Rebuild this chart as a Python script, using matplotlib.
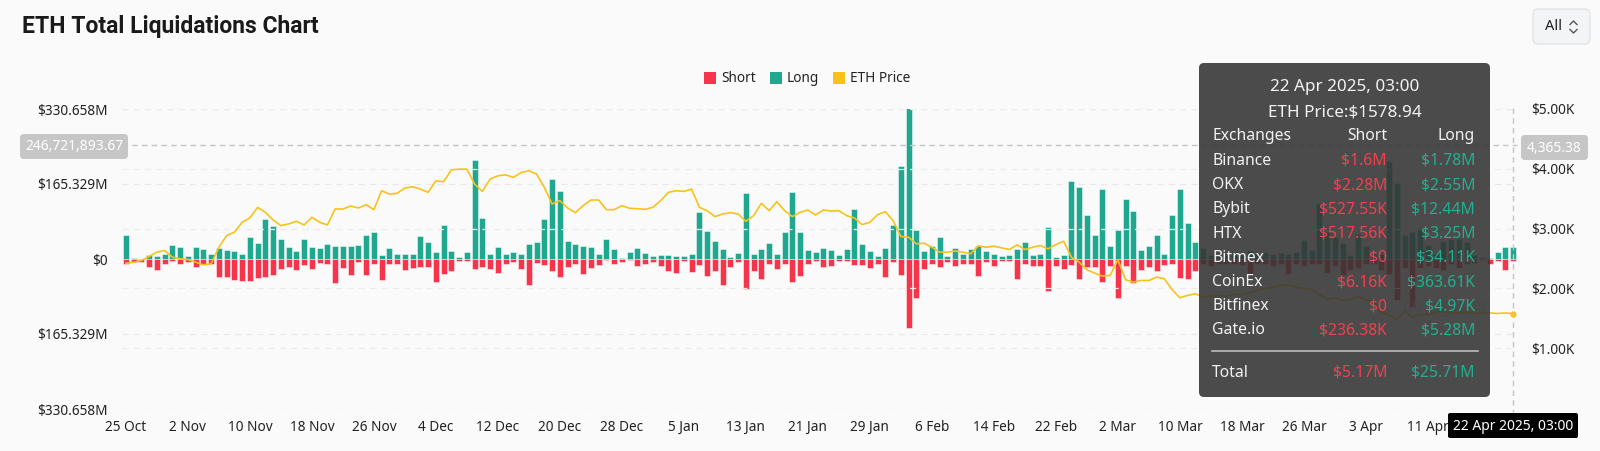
import numpy as np
import pandas as pd
import matplotlib
matplotlib.use("Agg")
import matplotlib.pyplot as plt
from matplotlib.patches import FancyBboxPatch, Rectangle
from matplotlib.lines import Line2D
from matplotlib.transforms import Affine2D

plt.rcParams['font.family'] = ['Noto Sans', 'DejaVu Sans']

W, H = 1600, 451

# daily data, 25 Oct 2024 .. 22 Apr 2025 (values in $M, price in $)
dates = pd.date_range("2024-10-25", periods=180, freq="D")

long_liq = [
    54, 2, 1, 8, 7, 10, 30, 26, 7, 26,
    22, 10, 24, 19, 17, 12, 48, 36, 89, 73,
    43, 26, 17, 43, 26, 25, 32, 29, 28, 28,
    30, 53, 60, 8, 24, 12, 10, 10, 51, 37,
    16, 76, 18, 5, 15, 218, 90, 12, 26, 10,
    16, 12, 32, 37, 88, 176, 149, 39, 34, 29,
    27, 10, 43, 21, 1.5, 15, 24, 14, 6, 8,
    8, 7, 6, 12, 104, 61, 40, 22, 4, 14,
    145, 10, 23, 35, 12, 60, 148, 59, 20, 16,
    24, 19, 9, 21, 110, 32, 18, 6, 24, 75,
    204, 335, 65, 18, 29, 48, 7, 24, 10, 23,
    29, 18, 12, 7, 9, 21, 38, 8, 10, 70,
    5, 9, 173, 158, 97, 54, 154, 29, 63, 133,
    105, 19, 29, 54, 11, 98, 154, 79, 38, 25,
    8, 10, 8, 15, 12, 20, 12, 16, 10, 14,
    10, 15, 41, 20, 123, 60, 48, 36, 9, 55,
    29, 10, 12, 215, 168, 53, 60, 69, 30, 10,
    40, 45, 45, 38, 9, 5, 2, 16, 26, 25.71,
]

short_liq = [
    12, 7, 7, 17, 25, 12, 4, 12, 7, 17,
    10, 11, 39, 39, 47, 49, 49, 42, 40, 35,
    23, 18, 24, 14, 21, 9, 11, 52, 20, 35,
    7, 36, 11, 47, 12, 12, 24, 19, 18, 17,
    51, 32, 27, 4, 5, 21, 18, 23, 31, 10,
    6, 21, 58, 8, 13, 27, 40, 18, 12, 33,
    19, 13, 3, 12, 7, 3, 15, 11, 6, 15,
    27, 30, 5, 28, 13, 37, 26, 57, 18, 7,
    66, 26, 43, 11, 22, 11, 51, 37, 11, 4,
    18, 15, 4, 4, 13, 13, 20, 11, 39, 7,
    35, 153, 85, 22, 12, 18, 7, 15, 12, 12,
    37, 7, 15, 4, 4, 44, 12, 15, 15, 71,
    16, 22, 14, 44, 18, 18, 50, 15, 85, 16,
    54, 24, 18, 27, 14, 10, 41, 44, 27, 12,
    15, 10, 12, 10, 14, 33, 10, 12, 15, 12,
    32, 10, 15, 10, 12, 30, 15, 35, 25, 20,
    12, 12, 25, 32, 90, 20, 105, 20, 15, 20,
    25, 12, 20, 12, 8, 3, 12, 5, 24, 5.17,
]

eth_price = [
    2422, 2439, 2467, 2533, 2606, 2633, 2522, 2494, 2483, 2439,
    2394, 2411, 2689, 2883, 2939, 3106, 3178, 3356, 3272, 3144,
    3050, 3078, 3122, 3061, 3189, 3106, 3061, 3328, 3328, 3378,
    3344, 3400, 3317, 3633, 3578, 3590, 3678, 3700, 3661, 3606,
    3800, 3783, 3983, 3994, 3994, 3744, 3622, 3828, 3883, 3900,
    3856, 3939, 3967, 3911, 3689, 3411, 3467, 3344, 3267, 3383,
    3478, 3478, 3317, 3317, 3383, 3339, 3333, 3322, 3356, 3467,
    3606, 3633, 3622, 3661, 3356, 3300, 3200, 3244, 3267, 3244,
    3122, 3217, 3422, 3300, 3450, 3300, 3200, 3272, 3311, 3228,
    3311, 3294, 3300, 3217, 3178, 3067, 3106, 3233, 3283, 3133,
    2867, 2856, 2744, 2756, 2689, 2606, 2606, 2625, 2606, 2578,
    2711, 2689, 2706, 2678, 2650, 2728, 2650, 2689, 2717, 2661,
    2733, 2789, 2522, 2439, 2311, 2256, 2206, 2217, 2478, 2144,
    2106, 2133, 2133, 2189, 2161, 1978, 1844, 1883, 1911, 1856,
    1870, 1880, 1870, 1900, 1890, 1930, 1970, 2000, 2020, 2050,
    2060, 2020, 2000, 1980, 1900, 1820, 1840, 1800, 1820, 1860,
    1800, 1790, 1590, 1560, 1480, 1620, 1520, 1560, 1560, 1600,
    1620, 1590, 1590, 1600, 1580, 1590, 1590, 1580, 1590, 1578.94,
]

left_ticks = [-330.658, -165.329, 0, 165.329, 330.658]
right_ticks = [1000, 2000, 3000, 4000, 5000]

# tooltip content
tip_rows = ["Binance", "OKX", "Bybit", "HTX", "Bitmex", "CoinEx", "Bitfinex", "Gate.io"]
tip_short = ["$1.6M", "$2.28M", "$527.55K", "$517.56K", "$0", "$6.16K", "$0", "$236.38K"]
tip_long = ["$1.78M", "$2.55M", "$12.44M", "$3.25M", "$34.11K", "$363.61K", "$4.97K", "$5.28M"]

GREEN = "#1fa88f"
RED = "#f6344b"
YELLOW = "#f7c31a"
BG = "#fafafa"
TXT = "#222222"

fig = plt.figure(figsize=(W / 100, H / 100), dpi=100, facecolor=BG)
# pixel coords (origin top-left) -> figure
PX = Affine2D().scale(1 / W, -1 / H).translate(0, 1) + fig.transFigure

ax = fig.add_axes([122 / W, 1 - 409 / H, (1517 - 122) / W, 300 / H])
ax.set_facecolor(BG)
x = np.arange(len(dates))
ax.set_xlim(-0.5, len(dates) - 0.5)
ax.set_ylim(-330.658, 330.658)

for v in left_ticks:
    ax.axhline(v, color="#e9e9e9", lw=0.9, ls=(0, (5, 4)), zorder=0)

ax.bar(x, long_liq, width=0.8, color=GREEN, edgecolor=(1, 1, 1, 0.55), linewidth=0.6, zorder=2)
ax.bar(x, -np.array(short_liq), width=0.8, color=RED, edgecolor=(1, 1, 1, 0.55), linewidth=0.6, zorder=2)

ax.set_yticks(left_ticks)
ax.set_yticklabels(["$0" if v == 0 else f"${abs(v):.3f}M" for v in left_ticks])
xt = x[:-8:8]  # 19 Apr sits under the crosshair date label
ax.set_xticks(xt)
ax.set_xticklabels([f"{dates[i].day} {dates[i].strftime('%b')}" for i in xt])
ax.tick_params(length=0, labelsize=9.8, colors=TXT, pad=8)
ax.tick_params(axis="y", pad=10)
for s in ax.spines.values():
    s.set_visible(False)

ax2 = ax.twinx()
ax2.set_ylim(-16.7, 4983.3)
for v in right_ticks:
    ax2.axhline(v, color="#ececec", lw=0.9, ls=(0, (5, 4)), zorder=0)
ax2.plot(x, eth_price, color=YELLOW, lw=1.2, zorder=3)
ax2.plot(x[-1], eth_price[-1], "o", color=YELLOW, ms=3.5, zorder=3)
ax2.set_yticks(right_ticks)
ax2.set_yticklabels([f"${v / 1000:.2f}K" for v in right_ticks])
ax2.tick_params(length=0, labelsize=9.8, colors=TXT, pad=10)
for s in ax2.spines.values():
    s.set_visible(False)

# title
fig.text(22, 27, "ETH Total Liquidations Chart", transform=PX, fontsize=16.5, fontweight="bold",
         family=["Roboto", "DejaVu Sans"], color="#1a1a1a", va="center", ha="left")

# "All" selector
fig.patches.append(FancyBboxPatch((1533, 9), 57, 35, boxstyle="round,pad=0,rounding_size=5",
                                  transform=PX, facecolor="#f2f4f5", edgecolor="#e1e4e6", lw=1))
fig.text(1545, 27, "All", transform=PX, fontsize=10.5, color=TXT, va="center", ha="left")
fig.lines.append(Line2D([1570, 1573.5, 1577], [24.5, 21, 24.5], transform=PX, color="#555", lw=1))
fig.lines.append(Line2D([1570, 1573.5, 1577], [29.5, 33, 29.5], transform=PX, color="#555", lw=1))

# legend
lx = 704
for lab, col in (("Short", RED), ("Long", GREEN), ("ETH Price", YELLOW)):
    fig.patches.append(Rectangle((lx, 72), 12, 12, transform=PX, facecolor=col, edgecolor="none"))
    fig.text(lx + 17, 78, lab, transform=PX, fontsize=9.8, color=TXT, va="center", ha="left")
    lx += {"Short": 66, "Long": 63}.get(lab, 0)

# crosshair
fig.lines.append(Line2D([122, 1517], [145, 145], transform=PX, color="#c4c4c4", lw=1,
                        ls=(0, (4, 3)), zorder=4))
fig.lines.append(Line2D([1513, 1513], [108, 412], transform=PX, color="#c4c4c4", lw=1,
                        ls=(0, (4, 3)), zorder=4))
fig.patches.append(FancyBboxPatch((20, 134), 108, 25, boxstyle="round,pad=0,rounding_size=4",
                                  transform=PX, facecolor="#c6c6c6", edgecolor="none", zorder=5))
fig.text(74, 147, "246,721,893.67", transform=PX, fontsize=10, color="white", ha="center",
         va="center", zorder=6)
fig.patches.append(FancyBboxPatch((1521, 135), 67, 25, boxstyle="round,pad=0,rounding_size=4",
                                  transform=PX, facecolor="#c6c6c6", edgecolor="none", zorder=5))
fig.text(1554.5, 148, "4,365.38", transform=PX, fontsize=10, color="white", ha="center",
         va="center", zorder=6)
fig.patches.append(FancyBboxPatch((1448, 413), 130, 25, boxstyle="round,pad=0,rounding_size=2",
                                  transform=PX, facecolor="black", edgecolor="none", zorder=5))
fig.text(1513, 426, "22 Apr 2025, 03:00", transform=PX, fontsize=10, color="white",
         ha="center", va="center", zorder=6)

# watermark, mostly hidden under the tooltip
fig.text(1445, 307, "coinglass", transform=PX, fontsize=14, fontweight="bold", color="#cfcfcf",
         alpha=0.6, ha="center", va="center", zorder=4)

# tooltip
fig.patches.append(FancyBboxPatch((1199, 63), 291, 334, boxstyle="round,pad=0,rounding_size=5",
                                  transform=PX, facecolor=(0.2, 0.2, 0.2, 0.88), edgecolor="none",
                                  zorder=7))
tip_fs = 11.3
WHITE = "#f2f2f2"
fig.text(1345, 87, "22 Apr 2025, 03:00", transform=PX, fontsize=12.3, color=WHITE,
         ha="center", va="center", zorder=8)
fig.text(1345, 112, "ETH Price:$1578.94", transform=PX, fontsize=12.3, color=WHITE,
         ha="center", va="center", zorder=8)
fig.text(1212, 136, "Exchanges", transform=PX, fontsize=tip_fs, color=WHITE, va="center", zorder=8)
fig.text(1387, 136, "Short", transform=PX, fontsize=tip_fs, color=WHITE, va="center",
         ha="right", zorder=8)
fig.text(1475, 136, "Long", transform=PX, fontsize=tip_fs, color=WHITE, va="center",
         ha="right", zorder=8)
for i, (nm, s, l) in enumerate(zip(tip_rows, tip_short, tip_long)):
    yy = 161 + i * 24.2
    fig.text(1212, yy, nm, transform=PX, fontsize=tip_fs, color=WHITE, va="center", zorder=8)
    fig.text(1387, yy, s, transform=PX, fontsize=tip_fs, color="#f2404f", va="center",
             ha="right", zorder=8)
    fig.text(1475, yy, l, transform=PX, fontsize=tip_fs, color="#22b08f", va="center",
             ha="right", zorder=8)
fig.lines.append(Line2D([1212, 1478], [351, 351], transform=PX, color="#bdbdbd", lw=1.2, zorder=8))
fig.text(1212, 373, "Total", transform=PX, fontsize=tip_fs, color=WHITE, va="center", zorder=8)
fig.text(1387, 373, "$5.17M", transform=PX, fontsize=tip_fs, color="#f2404f", va="center",
         ha="right", zorder=8)
fig.text(1475, 373, "$25.71M", transform=PX, fontsize=tip_fs, color="#22b08f", va="center",
         ha="right", zorder=8)

fig.savefig("out.png", dpi=100, facecolor=BG)
